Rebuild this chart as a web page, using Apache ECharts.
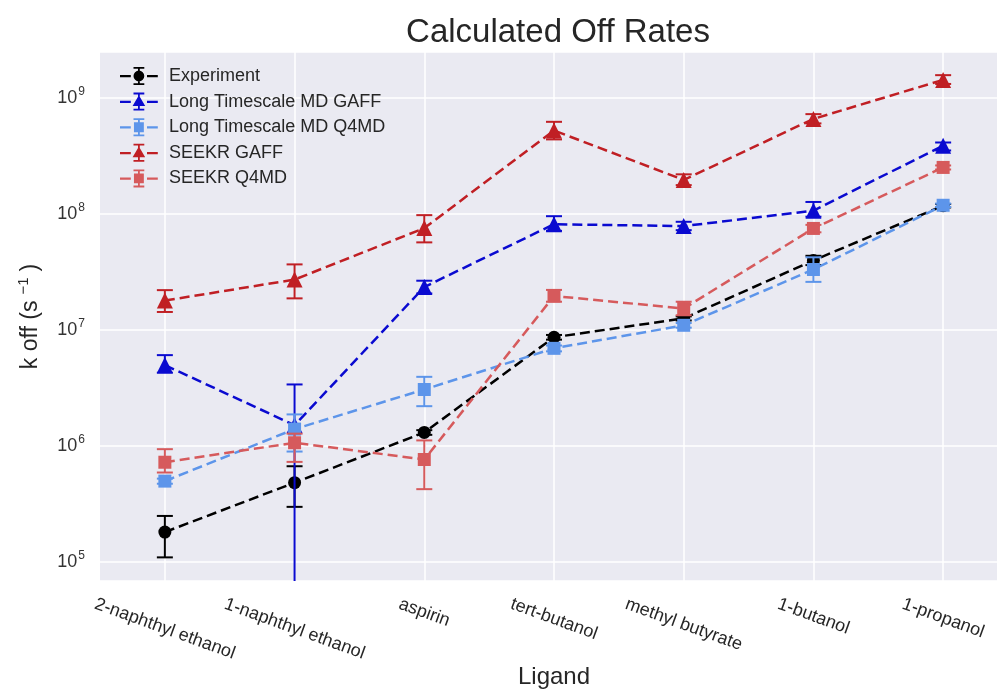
<!DOCTYPE html>
<html><head><meta charset="utf-8">
<script src="https://cdn.jsdelivr.net/npm/echarts@6/dist/echarts.min.js"></script>
<style>html,body{margin:0;padding:0;background:#fff}#c{width:997px;height:691px}</style>
</head><body><div id="c"></div>
<script>
const categories = ['2-naphthyl ethanol','1-naphthyl ethanol','aspirin','tert-butanol','methyl butyrate','1-butanol','1-propanol'];
const seriesNames = ['Experiment','Long Timescale MD GAFF','Long Timescale MD Q4MD','SEEKR GAFF','SEEKR Q4MD'];

const experiment     = [1.8e5, 4.8e5, 1.30e6, 8.6e6, 1.25e7, 3.95e7, 1.17e8];
const experimentLow  = [1.09e5, 2.97e5, 1.24e6, 8.2e6, 1.2e7, 3.6e7, 1.13e8];
const experimentHigh = [2.48e5, 6.65e5, 1.36e6, 9.0e6, 1.3e7, 4.33e7, 1.21e8];

const mdGaff     = [4.95e6, 1.50e6, 2.33e7, 8.1e7, 7.8e7, 1.06e8, 3.85e8];
const mdGaffLow  = [4.25e6, 1e3,    2.05e7, 7.1e7, 7.2e7, 9.4e7, 3.5e8];
const mdGaffHigh = [6.03e6, 3.37e6, 2.64e7, 9.5e7, 8.5e7, 1.26e8, 4.1e8];

const mdQ4md     = [4.95e5, 1.39e6, 3.05e6, 6.9e6, 1.09e7, 3.3e7, 1.18e8];
const mdQ4mdLow  = [4.7e5, 8.9e5, 2.19e6, 6.5e6, 1.04e7, 2.58e7, 1.14e8];
const mdQ4mdHigh = [5.2e5, 1.86e6, 3.92e6, 7.3e6, 1.14e7, 4.2e7, 1.22e8];

const seekrGaff     = [1.78e7, 2.7e7, 7.5e7, 5.2e8, 1.95e8, 6.55e8, 1.42e9];
const seekrGaffLow  = [1.42e7, 1.86e7, 5.65e7, 4.36e8, 1.76e8, 5.99e8, 1.31e9];
const seekrGaffHigh = [2.19e7, 3.65e7, 9.7e7, 6.18e8, 2.18e8, 7.2e8, 1.56e9];

const seekrQ4md     = [7.2e5, 1.06e6, 7.6e5, 1.95e7, 1.52e7, 7.45e7, 2.5e8];
const seekrQ4mdLow  = [5.87e5, 7.25e5, 4.22e5, 1.74e7, 1.33e7, 6.9e7, 2.4e8];
const seekrQ4mdHigh = [9.33e5, 1.27e6, 1.11e6, 2.2e7, 1.74e7, 8.0e7, 2.6e8];

const yTickValues = [1e5, 1e6, 1e7, 1e8, 1e9];
const Y_MIN = 68200, Y_MAX = 2.47e9;

const colors = ['#000000', '#0a0ad0', '#5d95ea', '#c01f24', '#d65a5c'];
const symbols = ['circle', 'triangle', 'rect', 'triangle', 'rect'];
const symbolSizes = [13, 16, 13, 16, 13];
const values = [experiment, mdGaff, mdQ4md, seekrGaff, seekrQ4md];
const lows = [experimentLow, mdGaffLow, mdQ4mdLow, seekrGaffLow, seekrQ4mdLow];
const highs = [experimentHigh, mdGaffHigh, mdQ4mdHigh, seekrGaffHigh, seekrQ4mdHigh];

const FONT = 'Liberation Sans, Arial, sans-serif';

// legend icons: dash, marker with error bar, dash
const barPart = 'M0 9 h12 v2.5 h-12 Z M30 9 h12 v2.5 h-12 Z M20 1 h2 v18 h-2 Z M15 0 h12 v2 h-12 Z M15 18 h12 v2 h-12 Z ';
const markerPart = {
  circle: 'M15 10 A6 6 0 1 1 27 10 A6 6 0 1 1 15 10 Z',
  triangle: 'M21 3 L28 15 L14 15 Z',
  rect: 'M15.5 4.5 h11 v11 h-11 Z'
};

function errRender(color) {
  return function (params, api) {
    const x = api.value(0), lo = api.value(1), hi = api.value(2);
    const pHi = api.coord([x, hi]);
    const pLo = api.coord([x, lo]);
    const w = 8;
    const style = { stroke: color, lineWidth: 2, fill: null };
    return {
      type: 'group',
      children: [
        { type: 'line', shape: { x1: pHi[0], y1: pHi[1], x2: pLo[0], y2: pLo[1] }, style: style },
        { type: 'line', shape: { x1: pHi[0] - w, y1: pHi[1], x2: pHi[0] + w, y2: pHi[1] }, style: style },
        { type: 'line', shape: { x1: pLo[0] - w, y1: pLo[1], x2: pLo[0] + w, y2: pLo[1] }, style: style }
      ]
    };
  };
}

const series = [];
seriesNames.forEach(function (name, i) {
  series.push({
    name: name,
    type: 'line',
    data: values[i],
    symbol: symbols[i],
    symbolSize: symbolSizes[i],
    showAllSymbol: true,
    lineStyle: { color: colors[i], width: 2.5, type: [10, 5] },
    itemStyle: { color: colors[i] },
    z: 2 + i * 2,
    animation: false
  });
  series.push({
    name: name + ' err',
    type: 'custom',
    renderItem: errRender(colors[i]),
    data: categories.map(function (c, k) { return [k, lows[i][k], highs[i][k]]; }),
    encode: { x: 0, y: [1, 2] },
    clip: true,
    z: 2 + i * 2,
    animation: false,
    silent: true
  });
});

// rotated category labels: bounding box centred on the tick, top-aligned below the axis
const LABEL_FS = 18, ANG = 20 * Math.PI / 180, LABEL_GAP = 14;
const mctx = document.createElement('canvas').getContext('2d');
mctx.font = LABEL_FS + 'px "Liberation Sans", Arial, sans-serif';
series.push({
  name: 'category labels',
  type: 'custom',
  clip: false,
  silent: true,
  z: 1,
  animation: false,
  data: categories.map(function (c, k) { return [k, Y_MIN]; }),
  encode: { x: 0, y: 1 },
  renderItem: function (params, api) {
    const k = api.value(0);
    const p = api.coord([k, Y_MIN]);
    const text = categories[k];
    const w = mctx.measureText(text).width;
    const h = LABEL_FS;
    const boxH = w * Math.sin(ANG) + h * Math.cos(ANG);
    return {
      type: 'text',
      x: p[0], y: p[1] + LABEL_GAP + boxH / 2,
      rotation: -ANG,
      style: { text: text, align: 'center', verticalAlign: 'middle', fill: '#262626',
               fontSize: LABEL_FS, fontFamily: FONT }
    };
  }
});

const chart = echarts.init(document.getElementById('c'));
chart.setOption({
  backgroundColor: '#ffffff',
  animation: false,
  title: {
    text: 'Calculated Off Rates',
    left: 553, top: 11, textAlign: 'center',
    textStyle: { fontSize: 33, fontWeight: 'normal', color: '#262626', fontFamily: FONT }
  },
  legend: {
    data: seriesNames.map(function (n, i) { return { name: n, icon: 'path://' + barPart + markerPart[symbols[i]] }; }),
    orient: 'vertical',
    left: 115, top: 62,
    itemGap: 7.6,
    itemWidth: 38, itemHeight: 18,
    itemStyle: { borderWidth: 0 },
    textStyle: { fontSize: 18, color: '#262626', fontFamily: FONT, padding: [0, 0, 0, 6] }
  },
  grid: { left: 100, top: 52, width: 908, height: 529, show: true, backgroundColor: '#eaeaf2', borderWidth: 0,
          containLabel: false, outerBoundsMode: 'none' },
  xAxis: {
    type: 'category',
    data: categories,
    boundaryGap: true,
    name: 'Ligand',
    nameLocation: 'middle',
    nameGap: 84,
    nameTextStyle: { fontSize: 24, color: '#262626', fontFamily: FONT, verticalAlign: 'top' },
    axisLine: { show: false },
    axisTick: { show: false, alignWithLabel: true },
    axisLabel: { show: false },
    splitLine: { show: true, alignWithLabel: true, lineStyle: { color: '#ffffff', width: 1.5 } }
  },
  yAxis: {
    type: 'log',
    logBase: 10,
    min: Y_MIN,
    max: Y_MAX,
    name: 'k off (s{s|−1})',
    nameLocation: 'middle',
    nameGap: 55,
    nameTextStyle: { fontSize: 23, color: '#262626', fontFamily: FONT,
      rich: { s: { fontSize: 15, padding: [0, 6, 14, 6], color: '#262626' } } },
    axisLine: { show: false },
    axisTick: { show: false },
    splitLine: { show: true, lineStyle: { color: '#ffffff', width: 1.5 } },
    axisLabel: {
      showMinLabel: false, showMaxLabel: false,
      margin: 15,
      color: '#333333',
      fontFamily: FONT,
      formatter: function (v) {
        const e = Math.log10(v);
        const r = Math.round(e);
        if (Math.abs(e - r) > 1e-6 || yTickValues.indexOf(Math.pow(10, r)) < 0) return '';
        return '{b|10}{s|' + r + '}';
      },
      rich: {
        b: { fontSize: 18, color: '#333333' },
        s: { fontSize: 12, color: '#333333', padding: [0, 0, 12, 1] }
      }
    }
  },
  series: series
});
</script>
</body></html>
